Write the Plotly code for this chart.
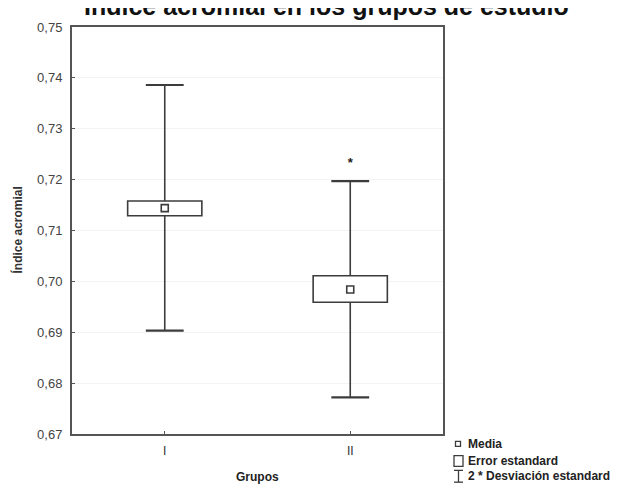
import plotly.graph_objects as go

# ---- data ----
groups = ["I", "II"]
group_pos = [0, 1]
means = [0.7144, 0.6984]
se_low = [0.7129, 0.6959]
se_high = [0.7158, 0.7011]
sd_low = [0.6903, 0.6772]
sd_high = [0.7386, 0.7197]
star_group = [1]
star_value = [0.7232]
y_ticks = [0.67, 0.68, 0.69, 0.70, 0.71, 0.72, 0.73, 0.74, 0.75]

LINE = "#3c3c3c"
FONT = "Liberation Sans, Arial, sans-serif"
OFF = 8  # page body margin in the browser

fig = go.Figure()

# Boxes: mean +/- standard error
fig.add_trace(go.Bar(
    x=group_pos,
    y=[h - l for h, l in zip(se_high, se_low)],
    base=se_low,
    width=0.4,
    marker=dict(color="white", line=dict(color=LINE, width=1.6)),
    showlegend=False, hoverinfo="skip",
))

# Whisker stems (outside the box)
wx, wy = [], []
for p, lo, hi, slo, shi in zip(group_pos, sd_low, sd_high, se_low, se_high):
    wx += [p, p, None, p, p, None]
    wy += [shi, hi, None, slo, lo, None]
fig.add_trace(go.Scatter(x=wx, y=wy, mode="lines",
                         line=dict(color=LINE, width=1.6),
                         showlegend=False, hoverinfo="skip"))

# Whisker caps
cx, cy = [], []
for p, lo, hi in zip(group_pos, sd_low, sd_high):
    cx += [p - 0.102, p + 0.102, None, p - 0.102, p + 0.102, None]
    cy += [hi, hi, None, lo, lo, None]
fig.add_trace(go.Scatter(x=cx, y=cy, mode="lines",
                         line=dict(color=LINE, width=2.2),
                         showlegend=False, hoverinfo="skip"))

# Means
fig.add_trace(go.Scatter(x=group_pos, y=means, mode="markers",
                         marker=dict(symbol="square-open", size=7,
                                     color=LINE, line=dict(width=1.6)),
                         showlegend=False, hoverinfo="skip"))

# Significance asterisk
fig.add_trace(go.Scatter(x=star_group, y=star_value, mode="text",
                         text=["<b>*</b>"], textposition="middle center",
                         textfont=dict(family=FONT, size=13, color="#222"),
                         showlegend=False, hoverinfo="skip"))

fig.update_xaxes(
    range=[-0.5, 1.5], tickvals=group_pos, ticktext=groups,
    showline=True, linecolor="#555", linewidth=2, mirror=True,
    ticks="inside", ticklen=3, tickcolor="#555",
    showgrid=False, zeroline=False, ticklabelstandoff=5,
    tickfont=dict(family=FONT, size=12, color="#333"),
)
fig.update_yaxes(
    range=[0.67, 0.75], tickvals=y_ticks, tickformat=".2f",
    showline=True, linecolor="#555", linewidth=2, mirror=True,
    ticks="inside", ticklen=3, tickcolor="#555",
    showgrid=True, gridcolor="#f3f3f3", gridwidth=1, zeroline=False,
    ticklabelstandoff=5,
    tickfont=dict(family=FONT, size=13, color="#444"),
)

# plot area in screen px: x 72..443, y 20..434
SL, SR, ST, SB = 72, 443, 20, 434
PW, PH = float(SR - SL), float(SB - ST)


def px(x):
    return (x - SL) / PW


def py(y):
    return (SB - y) / PH


ann = []
ann.append(dict(text="<b>Índice acromial en los grupos de estudio</b>",
                xref="paper", yref="paper", x=px(326), y=py(-1),
                xanchor="center", yanchor="middle", showarrow=False,
                font=dict(family=FONT, size=25, color="#111")))
ann.append(dict(text="<b>Índice acromial</b>", textangle=-90,
                xref="paper", yref="paper", x=px(18), y=py(226),
                xanchor="center", yanchor="middle", showarrow=False,
                font=dict(family=FONT, size=12, color="#333")))
ann.append(dict(text="<b>Grupos</b>",
                xref="paper", yref="paper", x=px(257), y=py(478),
                xanchor="center", yanchor="middle", showarrow=False,
                font=dict(family=FONT, size=12, color="#222")))
legend_items = [("Media", 444), ("Error estandard", 461), ("2 * Desviación estandard", 477)]
for txt, yy in legend_items:
    ann.append(dict(text="<b>" + txt + "</b>",
                    xref="paper", yref="paper", x=px(466), y=py(yy),
                    xanchor="left", yanchor="middle", showarrow=False,
                    font=dict(family=FONT, size=12, color="#222")))

shapes = []
# Media symbol
shapes.append(dict(type="rect", xref="paper", yref="paper",
                   x0=px(455.5), x1=px(460.5), y0=py(446.5), y1=py(441.5),
                   line=dict(color=LINE, width=1.3)))
# Error symbol
shapes.append(dict(type="rect", xref="paper", yref="paper",
                   x0=px(454), x1=px(463), y0=py(467), y1=py(456),
                   line=dict(color=LINE, width=1.3)))
# SD symbol (I-beam)
for (xa, ya, xb, yb) in [(458.5, 471, 458.5, 483), (454, 471, 463, 471), (454, 483, 463, 483)]:
    shapes.append(dict(type="line", xref="paper", yref="paper",
                       x0=px(xa), y0=py(ya), x1=px(xb), y1=py(yb),
                       line=dict(color=LINE, width=1.3)))

W, H = 643, 488
fig.update_layout(
    width=W, height=H,
    margin=dict(l=SL - OFF, r=W - (SR - OFF), t=ST - OFF, b=H - (SB - OFF)),
    paper_bgcolor="white", plot_bgcolor="white",
    separators=",.",
    barmode="overlay",
    annotations=ann, shapes=shapes,
    showlegend=False,
    font=dict(family=FONT),
)

fig.write_html("out.html")
